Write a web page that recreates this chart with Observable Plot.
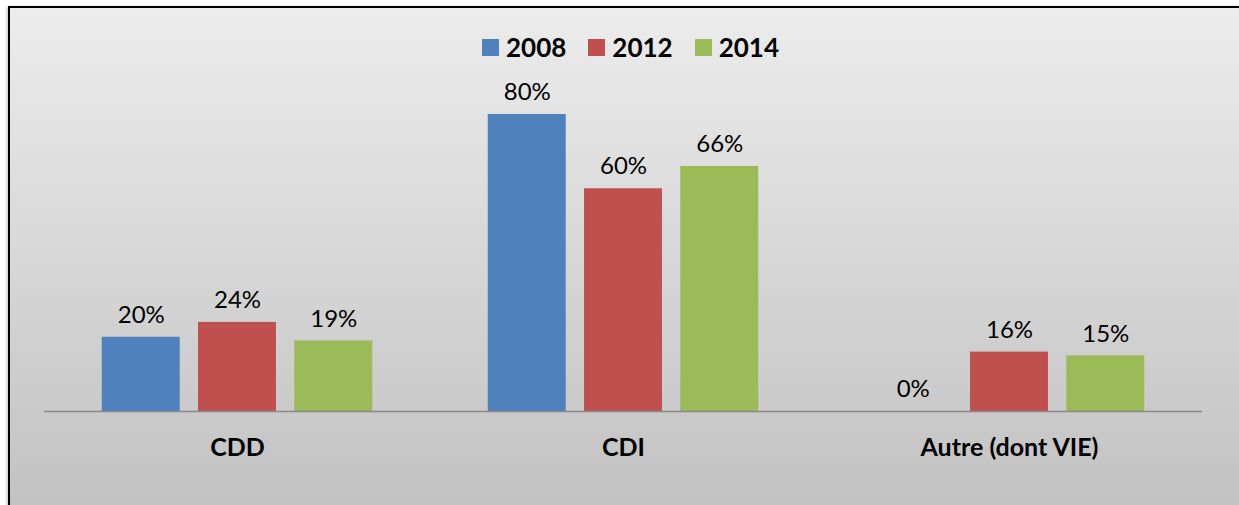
<!DOCTYPE html>
<html>
<head>
<meta charset="utf-8">
<script src="https://cdn.jsdelivr.net/npm/d3@7"></script>
<script src="https://cdn.jsdelivr.net/npm/@observablehq/plot@0.6"></script>
<style>
  html, body { margin: 0; padding: 0; background: #ffffff; }
  #wrap { position: relative; width: 1239px; height: 505px; overflow: hidden; font-family: Lato, "Open Sans", sans-serif; }
  #frame { position: absolute; left: 8px; top: 6px; width: 1229px; height: 520px; border: 2px solid #000;
           box-shadow: -1px 1px 3px rgba(0,0,0,0.25);
           background: linear-gradient(to bottom, #ececec 0px, #c2c2c2 498px); }
  #chart { position: absolute; left: 0; top: 0; }
  #legend { position: absolute; top: 31px; left: 482px; display: flex; align-items: center; font-weight: 700; font-size: 26px; color: #000; }
  #legend .item { display: flex; align-items: center; margin-right: 22px; }
  #legend .sw { width: 17px; height: 17px; margin-right: 7px; }
</style>
</head>
<body>
<div id="wrap">
  <div id="frame"></div>
  <div id="chart"></div>
  <div id="legend"></div>
</div>
<script>
const categories = ["CDD", "CDI", "Autre (dont VIE)"];
const years = ["2008", "2012", "2014"];
const values2008 = [20, 80, 0];
const values2012 = [24, 60, 16];
const values2014 = [19, 66, 15];
const colors = ["#4f81bd", "#c0504d", "#9bbb59"];

const series = [values2008, values2012, values2014];
const rows = [];
categories.forEach((c, i) => {
  years.forEach((y, j) => rows.push({cat: c, year: y, value: series[j][i]}));
});

const chart = Plot.plot({
  width: 1239,
  height: 505,
  marginLeft: 44,
  marginRight: 37,
  marginTop: 114,
  marginBottom: 94,
  style: {background: "transparent", fontFamily: "Lato, 'Open Sans', sans-serif", color: "#000"},
  fx: {domain: categories, padding: 0, label: null},
  x: {domain: years, paddingInner: 0.19, paddingOuter: 0.6, round: false, axis: null},
  y: {domain: [0, 80], axis: null},
  color: {domain: years, range: colors},
  marks: [
    Plot.barY(rows, {fx: "cat", x: "year", y: "value", fill: "year"}),
    Plot.ruleY([0], {stroke: "#898989", strokeWidth: 1.5}),
    Plot.text(rows, {fx: "cat", x: "year", y: "value", text: d => d.value + "%", dy: -22, fontSize: 24, fill: "#000"}),
    Plot.axisFx({anchor: "bottom", tickSize: 0, tickPadding: 27, fontSize: 25, fontWeight: "bold", label: null})
  ]
});
document.getElementById("chart").appendChild(chart);

const legend = document.getElementById("legend");
years.forEach((y, i) => {
  const item = document.createElement("div");
  item.className = "item";
  const sw = document.createElement("div");
  sw.className = "sw";
  sw.style.background = colors[i];
  const t = document.createElement("span");
  t.textContent = y;
  item.appendChild(sw);
  item.appendChild(t);
  legend.appendChild(item);
});
</script>
</body>
</html>
